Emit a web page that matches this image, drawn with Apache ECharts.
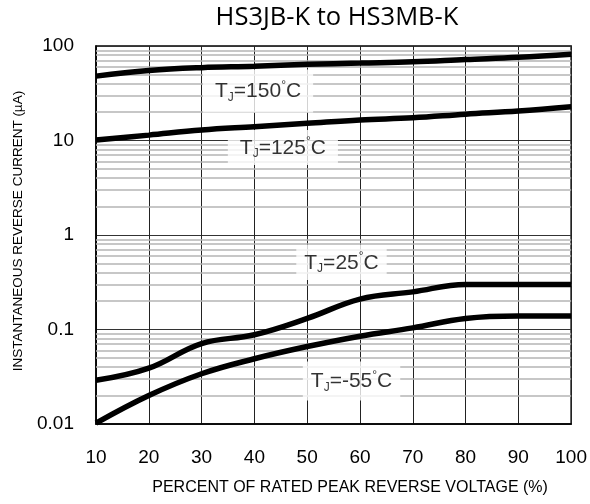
<!DOCTYPE html>
<html>
<head>
<meta charset="utf-8">
<script src="https://cdn.jsdelivr.net/npm/echarts@6/dist/echarts.min.js"></script>
<style>
  html, body { margin: 0; padding: 0; background: #fff; }
  #chart { width: 590px; height: 504px; }
</style>
</head>
<body>
<div id="chart"></div>
<script>
// percent of rated peak reverse voltage
const voltagePct = [10, 20, 30, 40, 50, 60, 70, 80, 90, 100]

// reverse current (uA)
const tj150 = [48, 55, 59, 61, 64, 66, 68, 72, 76, 82]
const tj125 = [10.1, 11.4, 12.9, 14, 15.2, 16.5, 17.4, 19, 20.5, 22.8]
const tj25 = [0.029, 0.039, 0.071, 0.088, 0.131, 0.21, 0.25, 0.3, 0.3, 0.3]
const tjm55 = [0.0102, 0.02, 0.034, 0.049, 0.066, 0.085, 0.104, 0.131, 0.139, 0.139]

const yTicks = ['0.01', '0.1', '1', '10', '100']
const curveNames = ['150', '125', '25', '-55']

// where each temperature tag sits (data coords)
const tagAnchors = [[40.7, 33.4], [45.4, 8.43], [56.5, 0.512], [58.4, 0.0285]]
const tagPadding = [[10, 12, 9, 12], [6, 12, 5, 12], [6, 8, 5, 8], [8, 8, 7, 8]]

const font = "'Liberation Sans', Arial, sans-serif"

let chart = echarts.init(document.getElementById('chart'))

function pairs(ys) {
  return voltagePct.map((x, i) => [x, ys[i]])
}

// minor log grid lines 2..9 in every decade
let minorLines = []
for (let d = 0; d < yTicks.length - 1; d++) {
  let base = parseFloat(yTicks[d])
  for (let k = 2; k <= 9; k++) {
    minorLines.push({ yAxis: +(base * k).toPrecision(3) })
  }
}

function curve(name, ys) {
  return {
    type: 'line',
    name: name,
    data: pairs(ys),
    smooth: 0.4,
    symbol: 'none',
    z: 5,
    lineStyle: { color: '#000', width: 5.5 }
  }
}

chart.setOption({
  animation: false,
  title: {
    text: 'HS3JB-K to HS3MB-K',
    left: 332,
    textAlign: 'center',
    top: 0,
    textStyle: { fontFamily: 'Open Sans', fontSize: 25.5, fontWeight: 'normal', color: '#000' }
  },
  grid: {
    left: 96, right: 15, top: 46, bottom: 80,
    show: true, borderColor: '#000', borderWidth: 1.5
  },
  xAxis: {
    type: 'value',
    min: 10, max: 100, interval: 10,
    name: 'PERCENT OF RATED PEAK REVERSE VOLTAGE (%)',
    nameLocation: 'middle',
    nameGap: 56,
    nameTextStyle: { fontFamily: font, fontSize: 16, color: '#000', padding: [0, 0, 0, 33] },
    axisLine: { lineStyle: { color: '#000', width: 1.5 } },
    axisTick: { show: false },
    axisLabel: { fontFamily: font, fontSize: 19, color: '#000', margin: 24 },
    splitLine: { show: true, lineStyle: { color: '#222', width: 1 } }
  },
  yAxis: {
    type: 'log',
    logBase: 10,
    min: 0.01, max: 100,
    name: 'INSTANTANEOUS REVERSE CURRENT (\u00b5A)',
    nameLocation: 'middle',
    nameGap: 71,
    nameTextStyle: { fontFamily: font, fontSize: 13.5, color: '#000', padding: [0, 0, 0, 8] },
    axisLine: { show: true, lineStyle: { color: '#000', width: 1.5 } },
    axisTick: { show: false },
    axisLabel: {
      fontFamily: font, fontSize: 19, color: '#000', margin: 22,
      formatter: v => String(+v.toPrecision(2))
    },
    splitLine: { show: true, lineStyle: { color: '#333', width: 1 } }
  },
  series: [
    {
      type: 'line',
      name: 'minor',
      data: [],
      z: 1,
      silent: true,
      markLine: {
        z: 1,
        silent: true,
        symbol: 'none',
        animation: false,
        label: { show: false },
        lineStyle: { type: 'solid', color: '#b4b4b4', width: 1.5 },
        data: minorLines
      }
    },
    {
      type: 'scatter',
      name: 'tags',
      z: 3,
      silent: true,
      symbolSize: 1,
      itemStyle: { color: 'rgba(0,0,0,0)' },
      data: tagAnchors.map((p, i) => ({
        value: p,
        label: {
          show: true,
          position: 'inside',
          formatter: '{t|T}{s|J}{t|=' + curveNames[i] + '}{d|\u00b0}{t|C}',
          backgroundColor: '#fff',
          padding: tagPadding[i],
          rich: {
            t: { fontFamily: font, fontSize: 21, color: '#000', lineHeight: 24, verticalAlign: 'middle' },
            s: { fontFamily: font, fontSize: 12, color: '#000', lineHeight: 12, verticalAlign: 'bottom' },
            d: { fontFamily: font, fontSize: 12, color: '#000', lineHeight: 12, verticalAlign: 'top' }
          }
        }
      }))
    },
    curve('150', tj150),
    curve('125', tj125),
    curve('25', tj25),
    curve('-55', tjm55)
  ]
})
</script>
</body>
</html>
